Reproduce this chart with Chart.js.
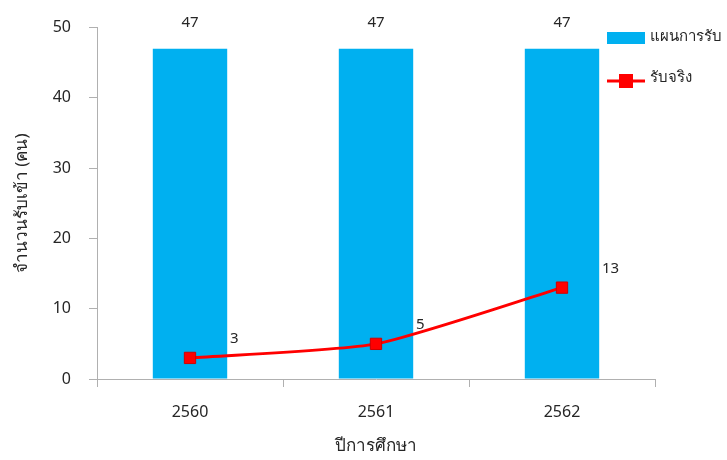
<!DOCTYPE html>
<html>
<head>
<meta charset="utf-8">
<script src="https://cdn.jsdelivr.net/npm/chart.js@4"></script>
<style>
  html, body { margin: 0; padding: 0; background: #fff; }
  #wrap { width: 727px; height: 460px; }
</style>
</head>
<body>
<div id="wrap"><canvas id="chart" width="727" height="460"></canvas></div>
<script>
  const years = ['2560', '2561', '2562'];
  const planned = [47, 47, 47];
  const actual = [3, 5, 13];
  const yTicks = [0, 10, 20, 30, 40, 50];

  const FONT = 'Tahoma, "Noto Sans", "DejaVu Sans", sans-serif';
  const BLUE = '#00B0F0';
  const RED = '#FF0000';
  const TXT = '#262626';

  // value labels: above the bars, up-right of the line points
  const valueLabels = {
    id: 'valueLabels',
    afterDatasetsDraw(chart) {
      const ctx = chart.ctx;
      ctx.save();
      ctx.fillStyle = TXT;
      ctx.font = '15px ' + FONT;
      ctx.textBaseline = 'middle';
      ctx.textAlign = 'center';
      chart.getDatasetMeta(0).data.forEach((el, i) => {
        ctx.fillText(String(planned[i]), el.x, el.y - 26);
      });
      ctx.textAlign = 'left';
      chart.getDatasetMeta(1).data.forEach((el, i) => {
        ctx.fillText(String(actual[i]), el.x + 40, el.y - 19);
      });
      ctx.restore();
    }
  };

  // legend on the right, drawn by hand to get the line+marker key
  const sideLegend = {
    id: 'sideLegend',
    afterDraw(chart) {
      const ctx = chart.ctx;
      const x = chart.chartArea.right - 48;
      const bar = chart.data.datasets[0];
      const line = chart.data.datasets[1];
      ctx.save();
      ctx.font = '15px ' + FONT;
      ctx.textBaseline = 'middle';
      ctx.fillStyle = bar.backgroundColor;
      ctx.fillRect(x, 32, 38, 12);
      ctx.fillStyle = TXT;
      ctx.fillText(bar.label, x + 43, 37);

      ctx.strokeStyle = line.borderColor;
      ctx.lineWidth = 3;
      ctx.beginPath();
      ctx.moveTo(x, 81);
      ctx.lineTo(x + 38, 81);
      ctx.stroke();
      ctx.fillStyle = line.pointBackgroundColor;
      ctx.fillRect(x + 12, 74, 14, 14);
      ctx.fillStyle = TXT;
      ctx.fillText(line.label, x + 43, 78);
      ctx.restore();
    }
  };

  new Chart(document.getElementById('chart'), {
    data: {
      labels: years,
      datasets: [
        {
          type: 'bar',
          label: 'แผนการรับ',
          data: planned,
          backgroundColor: BLUE,
          barPercentage: 0.4,
          categoryPercentage: 1,
          order: 1
        },
        {
          type: 'line',
          label: 'รับจริง',
          data: actual,
          borderColor: RED,
          borderWidth: 3,
          tension: 0.2,
          pointStyle: 'rect',
          pointRadius: 8,
          pointBackgroundColor: RED,
          pointBorderColor: '#D00000',
          pointBorderWidth: 1,
          order: 0
        }
      ]
    },
    options: {
      responsive: false,
      animation: false,
      layout: { padding: { left: 8, right: 72, top: 26, bottom: 0 } },
      plugins: {
        legend: { display: false },
        tooltip: { enabled: false }
      },
      scales: {
        x: {
          grid: { offset: true, drawOnChartArea: false, tickLength: 8, color: '#b0b0b0' },
          border: { color: '#b0b0b0' },
          ticks: { color: TXT, font: { size: 16, family: FONT }, padding: 16 },
          title: { display: true, text: 'ปีการศึกษา', color: TXT, font: { size: 17, family: FONT }, padding: { top: 10 } },
          afterFit(scale) { scale.height = 81; }
        },
        y: {
          min: 0,
          max: 50,
          afterBuildTicks(scale) { scale.ticks = yTicks.map(v => ({ value: v })); },
          grid: { drawOnChartArea: false, tickLength: 8, color: '#b0b0b0' },
          border: { color: '#b0b0b0' },
          ticks: { color: TXT, font: { size: 16, family: FONT }, padding: 18 },
          title: { display: true, text: 'จำนวนรับเข้า (คน)', color: TXT, font: { size: 17, family: FONT } },
          afterFit(scale) { scale.width = 89; }
        }
      }
    },
    plugins: [valueLabels, sideLegend]
  });
</script>
</body>
</html>
